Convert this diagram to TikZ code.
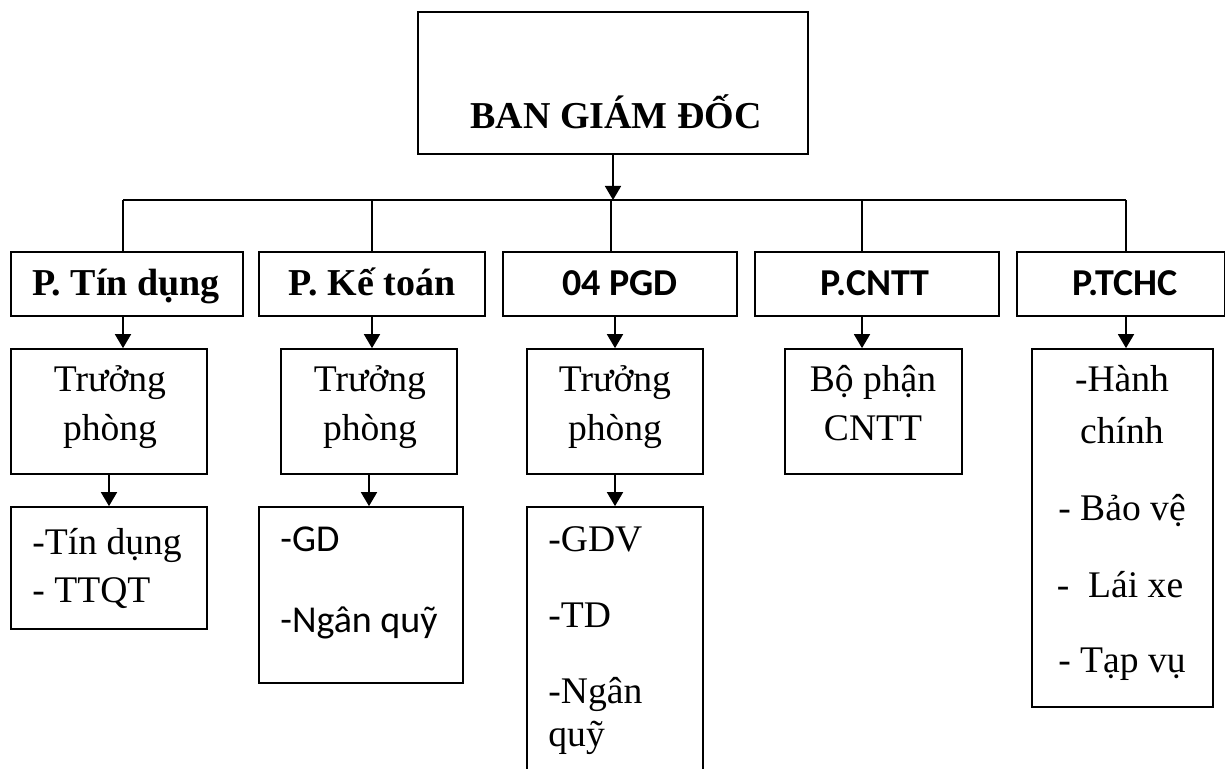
\documentclass[tikz,border=0pt]{standalone}
\usepackage{fontspec}
\setmainfont{Liberation Serif}
\newfontfamily\calibrifont{Carlito}
\usetikzlibrary{arrows.meta,fit}
\begin{document}
\begin{tikzpicture}[x=0.5pt,y=-0.5pt,
  box/.style={draw=black,line width=0.85pt,inner sep=0pt},
  ln/.style={draw=black,line width=0.85pt},
  arr/.style={ln,-{Triangle[width=8pt,length=7pt]}},
  txt/.style={inner sep=0pt,text height=0.95em,text depth=0.05em,font=\fontsize{18.8}{22}\selectfont},
  ttl/.style={txt,font=\fontsize{19}{22}\selectfont\bfseries},
  sttl/.style={txt,font=\fontsize{19}{22}\selectfont\calibrifont\bfseries},
  stxt/.style={txt,font=\fontsize{19}{22}\selectfont\calibrifont},
  lt/.style={txt,anchor=west}]
\path[use as bounding box] (0,0) rectangle (1225,769);
\clip (0,0) rectangle (1225,769);

% top box
\node[box,fit={(418,12) (808,154)}] (top) {};
\node[ttl] (topt) at (616,120) {BAN GIÁM ĐỐC};

% bus
\coordinate (bm) at (613,200);
\coordinate (d1) at (123,200);
\coordinate (d2) at (372,200);
\coordinate (d3) at (611,200);
\coordinate (d4) at (862,200);
\coordinate (d5) at (1126,200);
\draw[arr] (top.south -| bm) -- (bm);
\draw[ln] (d1) -- (d5);

% level 1
\node[box,fit={(11,252) (243,316)}] (a1) {};
\node[box,fit={(259,252) (485,316)}] (b1) {};
\node[box,fit={(503,252) (737,316)}] (c1) {};
\node[box,fit={(755,252) (999,316)}] (e1) {};
\node[box,fit={(1017,252) (1225,316)}] (f1) {};
\node[ttl] (a1t) at (126,287) {P. Tín dụng};
\node[ttl] (b1t) at (372,287) {P. Kế toán};
\node[sttl] (c1t) at (620,287) {04 PGD};
\node[sttl] (e1t) at (875,287) {P.CNTT};
\node[sttl] (f1t) at (1125,287) {P.TCHC};

\draw[ln] (d1) -- (d1 |- a1.north);
\draw[ln] (d2) -- (d2 |- b1.north);
\draw[ln] (d3) -- (d3 |- c1.north);
\draw[ln] (d4) -- (d4 |- e1.north);
\draw[ln] (d5) -- (d5 |- f1.north);

% level 2
\node[box,fit={(11,349) (207,474)}] (a2) {};
\node[box,fit={(281,349) (457,474)}] (b2) {};
\node[box,fit={(527,349) (703,474)}] (c2) {};
\node[box,fit={(785,349) (962,474)}] (e2) {};
\node[box,fit={(1032,349) (1213,707)}] (f2) {};

\draw[arr] (a1.south -| d1) -- (a2.north -| d1);
\draw[arr] (b1.south -| d2) -- (b2.north -| d2);
\draw[arr] (c1.south -| c2.north) -- (c2.north);
\draw[arr] (e1.south -| d4) -- (e2.north -| d4);
\draw[arr] (f1.south -| d5) -- (f2.north -| d5);

\node[txt] (a2t1) at (110,383) {Trưởng};
\node[txt] (a2t2) at (110,432) {phòng};
\node[txt] (b2t1) at (370,383) {Trưởng};
\node[txt] (b2t2) at (370,432) {phòng};
\node[txt] (c2t1) at (615,383) {Trưởng};
\node[txt] (c2t2) at (615,432) {phòng};
\node[txt] (e2t1) at (873,383) {Bộ phận};
\node[txt] (e2t2) at (873,432) {CNTT};
\node[txt] (f2t1) at (1122,383) {-Hành};
\node[txt] (f2t2) at (1122,435) {chính};
\node[txt] (f2t3) at (1122,512) {- Bảo vệ};
\node[txt] (f2t4) at (1120,588) {-\ \ Lái xe};
\node[txt] (f2t5) at (1122,663) {- Tạp vụ};

% level 3
\node[box,fit={(11,507) (207,629)}] (a3) {};
\node[box,fit={(259,507) (463,683)}] (b3) {};
\node[box,fit={(527,507) (703,800)}] (c3) {};

\draw[arr] (a2.south) -- (a2.south |- a3.north);
\draw[arr] (b2.south) -- (b2.south |- b3.north);
\draw[arr] (c2.south) -- (c3.north);

\node[lt] (a3t1) at (32,545) {-Tín dụng};
\node[lt] (a3t2) at (32,593) {- TTQT};
\node[stxt,anchor=west] (b3t1) at (280,543) {-GD};
\node[stxt,anchor=west] (b3t2) at (280,623) {-Ngân quỹ};
\node[lt] (c3t1) at (548,543) {-GDV};
\node[lt] (c3t2) at (548,618) {-TD};
\node[lt] (c3t3) at (548,694) {-Ngân};
\node[lt] (c3t4) at (548,737) {quỹ};
\end{tikzpicture}
\end{document}
